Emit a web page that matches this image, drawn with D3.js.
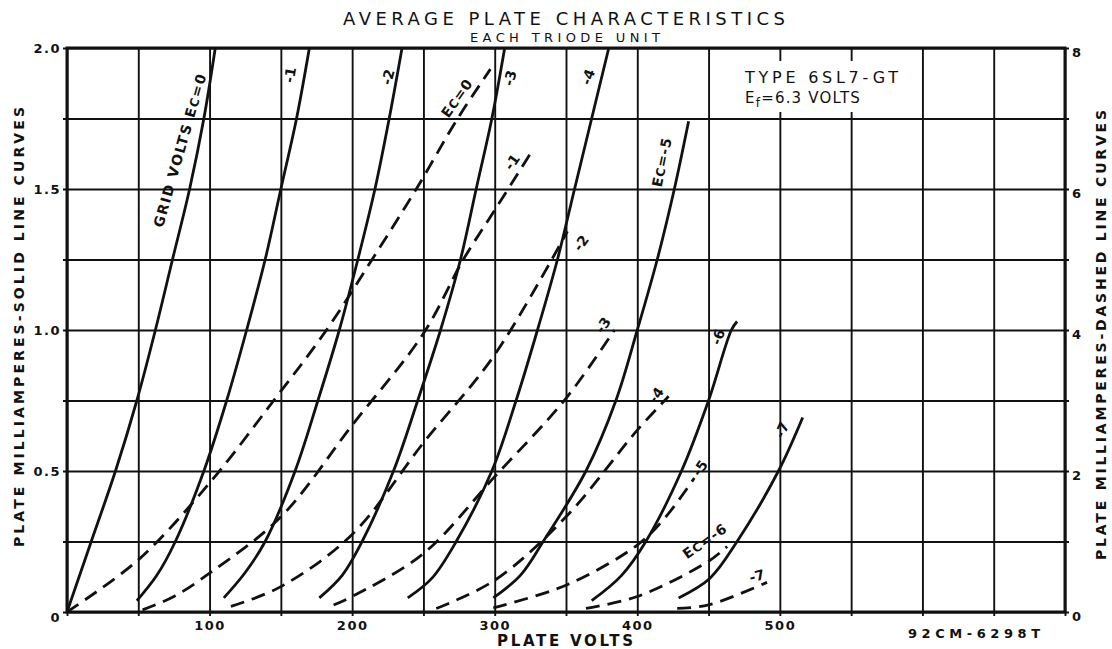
<!DOCTYPE html>
<html>
<head>
<meta charset="utf-8">
<script src="https://cdn.jsdelivr.net/npm/d3@7"></script>
<style>
  body { margin: 0; background: #fff; }
  svg { display: block; }
  .grid line { stroke: #111; stroke-width: 1.9; }
  .grid path { display: none; }
  .tlab text { font-family: "DejaVu Sans", sans-serif; font-weight: bold; font-size: 13px; fill: #111; letter-spacing: 1.5px; }
  .curve { fill: none; stroke: #111; stroke-width: 2.8; }
  .dash { stroke-dasharray: 14, 8; }
  .lbl { font-family: "DejaVu Sans", sans-serif; font-size: 13px; fill: #111; }
  .clbl { font-weight: bold; }
</style>
</head>
<body>
<div id="chartArea"></div>
<script>
// plate volts (x) and tick labels
var voltTicks = [0, 50, 100, 150, 200, 250, 300, 350, 400, 450, 500, 550, 600, 650, 700];
var voltLabels = [100, 200, 300, 400, 500];
var maTicks = [0, 0.25, 0.5, 0.75, 1.0, 1.25, 1.5, 1.75, 2.0];
var maLabels = [0, 0.5, 1.0, 1.5, 2.0];
var dashLabels = [0, 2, 4, 6, 8];

// solid line curves: [plate volts, plate mA (left scale)]
var solidEc0 = [[0,0],[17,0.25],[34,0.5],[49,0.75],[62,1.0],[74,1.25],[86,1.5],[96,1.75],[104,2.0]];
var solidEc1 = [[49,0.04],[63,0.13],[76,0.25],[96,0.5],[112,0.75],[126,1.0],[139,1.25],[150,1.5],[161,1.75],[170,2.0]];
var solidEc2 = [[110,0.05],[125,0.14],[139,0.25],[160,0.5],[176,0.75],[191,1.0],[204,1.25],[216,1.5],[226,1.75],[235,2.0]];
var solidEc3 = [[177,0.05],[193,0.13],[207,0.25],[229,0.5],[246,0.75],[262,1.0],[276,1.25],[287,1.5],[298,1.75],[307,2.0]];
var solidEc4 = [[239,0.05],[256,0.12],[273,0.25],[298,0.5],[315,0.75],[330,1.0],[344,1.25],[356,1.5],[368,1.75],[380,2.0]];
var solidEc5 = [[299,0.05],[318,0.13],[334,0.25],[364,0.5],[385,0.75],[400,1.0],[414,1.25],[426,1.5],[436,1.74]];
var solidEc6 = [[368,0.04],[389,0.13],[406,0.25],[431,0.5],[450,0.75],[466,1.0],[470,1.03]];
var solidEc7 = [[429,0.05],[451,0.12],[470,0.25],[499,0.5],[516,0.69]];

// dashed line curves: [plate volts, plate mA (right scale)]
var dashEc0 = [[0,0],[50,0.74],[100,1.83],[145,3.0],[182,4.0],[214,5.0],[245,6.0],[274,7.0],[297,7.7]];
var dashEc1 = [[53,0.03],[75,0.22],[100,0.55],[150,1.35],[200,2.65],[250,3.95],[278,5.0],[300,5.7],[325,6.5]];
var dashEc2 = [[115,0.08],[150,0.36],[200,1.1],[250,2.4],[300,3.65],[351,5.4]];
var dashEc3 = [[187,0.1],[200,0.22],[250,0.83],[300,1.92],[350,3.03],[384,4.0]];
var dashEc4 = [[259,0.05],[300,0.45],[350,1.35],[400,2.58],[422,3.06]];
var dashEc5 = [[299,0.06],[350,0.38],[400,0.95],[420,1.35],[440,1.9]];
var dashEc6 = [[364,0.05],[400,0.22],[450,0.72],[463,0.93]];
var dashEc7 = [[428,0.05],[450,0.1],[491,0.42]];

var solidCurves = [solidEc0, solidEc1, solidEc2, solidEc3, solidEc4, solidEc5, solidEc6, solidEc7];
var dashCurves = [dashEc0, dashEc1, dashEc2, dashEc3, dashEc4, dashEc5, dashEc6, dashEc7];

var W = 1112, H = 649;
var margin = {left: 67, top: 48, right: 47, bottom: 37};
var width = W - margin.left - margin.right;
var height = H - margin.top - margin.bottom;

var svg = d3.select("#chartArea").append("svg")
  .attr("width", W)
  .attr("height", H);

var x = d3.scaleLinear().domain([0, 700]).range([margin.left, margin.left + width]);
var y = d3.scaleLinear().domain([0, 2]).range([margin.top + height, margin.top]);
var y2 = d3.scaleLinear().domain([0, 8]).range([margin.top + height, margin.top]);

//### grid: vertical lines (with small ticks below) ###
svg.append("g")
  .attr("class", "grid")
  .attr("transform", "translate(0," + (margin.top + height + 4) + ")")
  .call(d3.axisBottom(x).tickValues(voltTicks).tickSize(-(height + 4)).tickFormat(""));

//### grid: horizontal lines (ticks left and right) ###
svg.append("g")
  .attr("class", "grid")
  .attr("transform", "translate(" + (margin.left - 4) + ",0)")
  .call(d3.axisLeft(y).tickValues(maTicks).tickSize(-(width + 8)).tickFormat(""));

// white box behind the type note
svg.append("rect")
  .attr("x", x(480)).attr("y", 61)
  .attr("width", x(592) - x(480)).attr("height", 51)
  .attr("fill", "#fff");

// frame
svg.append("rect")
  .attr("x", margin.left).attr("y", margin.top)
  .attr("width", width).attr("height", height)
  .attr("fill", "none").attr("stroke", "#111").attr("stroke-width", 3);

//### tick labels ###
var xAx = svg.append("g").attr("class", "tlab")
  .attr("transform", "translate(0," + (margin.top + height) + ")")
  .call(d3.axisBottom(x).tickValues(voltLabels).tickSize(0).tickPadding(9));
xAx.select(".domain").remove();

var yAx = svg.append("g").attr("class", "tlab")
  .attr("transform", "translate(" + (margin.left - 2) + ",0)")
  .call(d3.axisLeft(y).tickValues(maLabels).tickSize(0).tickPadding(4)
    .tickFormat(function(d) { return d === 0 ? "0" : d3.format(".1f")(d); }));
yAx.select(".domain").remove();
yAx.selectAll("text").attr("dy", function(d) { return d === 0 ? "0.75em" : "0.32em"; });

var y2Ax = svg.append("g").attr("class", "tlab")
  .attr("transform", "translate(" + (margin.left + width + 2) + ",0)")
  .call(d3.axisRight(y2).tickValues(dashLabels).tickSize(0).tickPadding(5));
y2Ax.select(".domain").remove();
y2Ax.selectAll("text").attr("dy", "0.65em");

//### curves ###
var line = d3.line()
  .x(function(d) { return x(d[0]); })
  .y(function(d) { return y(d[1]); })
  .curve(d3.curveCatmullRom.alpha(0.5));
var line2 = d3.line()
  .x(function(d) { return x(d[0]); })
  .y(function(d) { return y2(d[1]); })
  .curve(d3.curveCatmullRom.alpha(0.5));

svg.selectAll(".solidc").data(solidCurves).enter()
  .append("path")
  .attr("class", "curve solidc")
  .attr("d", line);

svg.selectAll(".dashc").data(dashCurves).enter()
  .append("path")
  .attr("class", "curve dash dashc")
  .attr("d", line2);

//### texts ###
function label(px, py, rot, parts, size) {
  var t = svg.append("text")
    .attr("class", "lbl clbl")
    .attr("text-anchor", "middle")
    .attr("transform", "translate(" + px + "," + py + ") rotate(" + rot + ")")
    .attr("dy", "0.35em")
    .style("font-size", (size || 14) + "px");
  parts.forEach(function(p) {
    var s = t.append("tspan").text(p[0]);
    if (p[1]) s.style("font-size", p[1]);
  });
  return t;
}

// curve labels
label(180, 150, -74, [["GRID VOLTS E"], ["C", "12px"], ["=0"]], 14).attr("letter-spacing", 1.5);
label(290, 75, -80, [["-1"]]);
label(388, 77, -75, [["-2"]]);
label(510, 78, -75, [["-3"]]);
label(588, 77, -70, [["-4"]]);
label(662, 162, -78, [["E"], ["C", "12px"], ["=-5"]]).attr("letter-spacing", 1);
label(718, 337, -70, [["-6"]]);
label(782, 430, -65, [["-7"]]);
label(457, 98, -55, [["E"], ["C", "12px"], ["=0"]]).attr("letter-spacing", 1);
label(512, 162, -55, [["-1"]]);
label(581, 243, -55, [["-2"]]);
label(603, 325, -55, [["-3"]]);
label(656, 395, -55, [["-4"]]);
label(700, 468, -55, [["-5"]]);
label(705, 541, -35, [["E"], ["C", "12px"], ["=-6"]]).attr("letter-spacing", 1);
label(757, 576, -15, [["-7"]]);

// titles
svg.append("text").attr("class", "lbl")
  .attr("x", 343).attr("y", 25).attr("textLength", 442)
  .style("font-size", "18px").text("AVERAGE PLATE CHARACTERISTICS");
svg.append("text").attr("class", "lbl")
  .attr("x", 470).attr("y", 42).attr("textLength", 190)
  .style("font-size", "13px").text("EACH TRIODE UNIT");

svg.append("text").attr("class", "lbl")
  .attr("x", 745).attr("y", 83).attr("textLength", 153)
  .style("font-size", "16px").text("TYPE 6SL7-GT");
var ef = svg.append("text").attr("class", "lbl")
  .attr("x", 745).attr("y", 103)
  .style("font-size", "15px").attr("letter-spacing", 1.2);
ef.append("tspan").text("E");
ef.append("tspan").attr("dy", 4).style("font-size", "12px").text("f");
ef.append("tspan").attr("dy", -4).text("=6.3 VOLTS");

// axis titles
svg.append("text").attr("class", "lbl")
  .attr("x", 497).attr("y", 646).attr("textLength", 136)
  .style("font-size", "15px").style("font-weight", "bold").text("PLATE VOLTS");
svg.append("text").attr("class", "lbl")
  .attr("x", 908).attr("y", 638).attr("textLength", 132)
  .style("font-size", "13px").style("font-weight", "bold").text("92CM-6298T");

svg.append("text").attr("class", "lbl")
  .attr("transform", "translate(24,547) rotate(-90)")
  .attr("textLength", 440)
  .style("font-size", "14px").style("font-weight", "bold")
  .text("PLATE MILLIAMPERES-SOLID LINE CURVES");
svg.append("text").attr("class", "lbl")
  .attr("transform", "translate(1106,560) rotate(-90)")
  .attr("textLength", 450)
  .style("font-size", "14px").style("font-weight", "bold")
  .text("PLATE MILLIAMPERES-DASHED LINE CURVES");
</script>
</body>
</html>
